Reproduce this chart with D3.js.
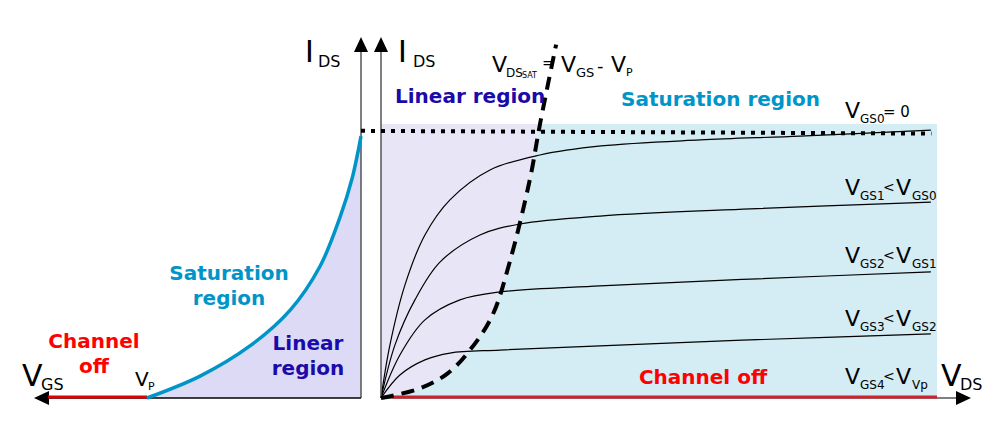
<!DOCTYPE html><html><head><meta charset="utf-8"><script src="https://d3js.org/d3.v7.min.js"></script>
<style>body{margin:0;background:#fff}text{font-family:"DejaVu Sans",sans-serif}</style></head><body><svg id="c" width="1000" height="438"></svg>
<script>
// right panel: VDS (0..100), IDS (0..100)
const curve0=[[0,0],[1.6,19.3],[4.3,41.2],[7.9,59.5],[12.4,72.3],[19.6,83.2],[28.6,88.7],[39.6,92],[57.4,94.2],[75.4,95.6],[98.9,97.8]];
const curve1=[[0,0],[2.5,19.3],[6.1,35.8],[10.6,49.6],[17.8,59.5],[25,63.5],[39.4,66.4],[66.4,69],[98.9,71.5]];
const curve2=[[0,0],[3.4,15.7],[7.9,28.5],[14.2,35.8],[21.4,38.7],[39.4,40.9],[66.4,43.4],[98.9,46]];
const curve3=[[0,0],[3.4,8.4],[7.9,13.9],[12.4,16.4],[21.4,17.5],[39.4,19],[66.4,21.2],[98.9,23.4]];
const satCurve=[[0,0],[7,3.5],[12,9],[16,17.5],[20,30],[23.2,50],[26.8,80],[28.6,100],[31.5,129]];
const maxLine=97.5;
// left panel: VGS (-100..0)
const transfer=[[-100,0],[-75.2,8],[-51.9,19],[-33.2,32],[-19.2,48],[-9.8,66],[-4.2,80],[0,95.6]];
const vgsLabels=[["GS0","= 0",""],["GS1","<V","GS0"],["GS2","<V","GS1"],["GS3","<V","GS2"],["GS4","<V","Vp"]];
const labelY=[100,72,47,24,3];

const svg=d3.select("#c");
const x=d3.scaleLinear().domain([0,100]).range([381,937]);
const y=d3.scaleLinear().domain([0,100]).range([398,124]);
const xl=d3.scaleLinear().domain([-100,0]).range([147,361]);
const line=d3.line().x(d=>x(d[0])).y(d=>y(d[1])).curve(d3.curveCatmullRom.alpha(0.5));
const satIn=satCurve.filter(d=>d[1]<=100);
const pur=[[0,0],...satIn,[0,100]];
const blu=[[0,0],...satIn,[100,100],[100,0]];
const poly=d3.line().x(d=>x(d[0])).y(d=>y(d[1]));
svg.append("path").attr("d",poly(blu)+"Z").attr("fill","#d4ecf4");
svg.append("path").attr("d",poly(pur)+"Z").attr("fill","#e8e6f6");
const ll=d3.line().x(d=>xl(d[0])).y(d=>y(d[1])).curve(d3.curveCatmullRom.alpha(0.5));
const la=d3.area().x(d=>xl(d[0])).y0(y(0)).y1(d=>y(d[1])).curve(d3.curveCatmullRom.alpha(0.5));
svg.append("path").attr("d",la(transfer)).attr("fill","#dcdaf5");
[curve0,curve1,curve2,curve3].forEach(c=>svg.append("path").attr("d",line(c)).attr("fill","none").attr("stroke","#000").attr("stroke-width",1.2));
const ax="#555";
svg.append("line").attr("x1",361).attr("x2",361).attr("y1",398).attr("y2",48).attr("stroke",ax).attr("stroke-width",1.5);
svg.append("path").attr("d","M354,52L361,37L368,52Z").attr("fill","#000");
svg.append("line").attr("x1",361).attr("x2",45).attr("y1",398).attr("y2",398).attr("stroke","#000").attr("stroke-width",1.5);
svg.append("path").attr("d","M49,391L34,398L49,405Z").attr("fill","#000");
svg.append("line").attr("x1",381).attr("x2",381).attr("y1",398).attr("y2",48).attr("stroke",ax).attr("stroke-width",1.5);
svg.append("path").attr("d","M374,52L381,37L388,52Z").attr("fill","#000");
svg.append("line").attr("x1",381).attr("x2",960).attr("y1",398).attr("y2",398).attr("stroke",ax).attr("stroke-width",1.5);
svg.append("path").attr("d","M956,391L971,398L956,405Z").attr("fill","#000");
svg.append("line").attr("x1",x(2)).attr("x2",x(100)).attr("y1",397).attr("y2",397).attr("stroke","#d0202c").attr("stroke-width",3);
svg.append("line").attr("x1",48).attr("x2",xl(-100)).attr("y1",397).attr("y2",397).attr("stroke","#e00000").attr("stroke-width",3);
svg.append("path").attr("d",ll(transfer)).attr("fill","none").attr("stroke","#0095c8").attr("stroke-width",3.5);
svg.append("line").attr("x1",361).attr("x2",x(99)).attr("y1",y(maxLine)).attr("y2",y(maxLine-1)).attr("stroke","#000").attr("stroke-width",4).attr("stroke-dasharray","4,6");
svg.append("path").attr("d",line(satCurve)).attr("fill","none").attr("stroke","#000").attr("stroke-width",4).attr("stroke-dasharray","13,8");
function t(xx,yy,s,size,fill,opts={}){const e=svg.append("text").attr("x",xx).attr("y",yy).attr("font-size",size).attr("fill",fill||"#000").text(s);if(opts.bold)e.attr("font-weight","bold");if(opts.anchor)e.attr("text-anchor",opts.anchor);return e;}
t(305,62,"I",30);t(318,67,"DS",16);
t(398,62,"I",30);t(413,67,"DS",16);
t(22,386,"V",30);t(41,390,"GS",16);
t(941,386,"V",30);t(960,390,"DS",16);
t(135,386,"V",20);t(148,390,"P",11);
t(492,72,"V",22);t(506,77,"DS",12);t(522,78,"SAT",8);t(542,68,"=",15);t(561,72,"V",22);t(576,77,"GS",13);t(597,72,"-",18);t(611,72,"V",22);t(626,76,"P",11);
t(395,103,"Linear region",20,"#1a0aaa",{bold:1});
t(621,106,"Saturation region",20,"#0095c8",{bold:1});
t(229,280,"Saturation",20,"#0095c8",{bold:1,anchor:"middle"});t(229,305,"region",20,"#0095c8",{bold:1,anchor:"middle"});
t(308,350,"Linear",20,"#1a0aaa",{bold:1,anchor:"middle"});t(308,375,"region",20,"#1a0aaa",{bold:1,anchor:"middle"});
t(94,348,"Channel",20,"#f00",{bold:1,anchor:"middle"});t(94,373,"off",20,"#f00",{bold:1,anchor:"middle"});
t(703,384,"Channel off",20,"#f00",{bold:1,anchor:"middle"});
vgsLabels.forEach((l,i)=>{const yy=y(labelY[i])-6;t(845,yy,"V",22);t(860,yy+5,l[0],12);
 if(i==0){t(883,yy-1,l[1],15);} else {t(883,yy-3,"<",14);t(896,yy,"V",22);t(912,yy+5,l[2],12);}});
</script></body></html>
